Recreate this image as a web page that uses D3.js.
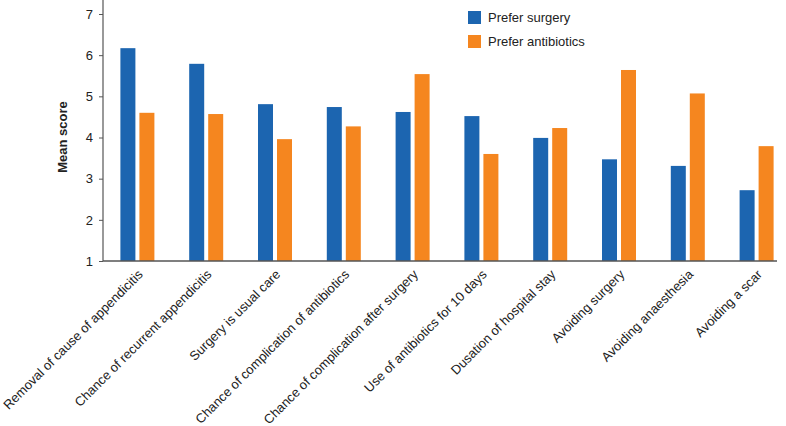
<!DOCTYPE html>
<html><head><meta charset="utf-8">
<script src="https://cdn.jsdelivr.net/npm/d3@7"></script>
<style>body{margin:0;background:#fff}svg{display:block}text{font-family:"Liberation Sans",Arial,sans-serif}</style>
</head><body>
<svg id="c" width="786" height="426"></svg>
<script>
const categories = ["Removal of cause of appendicitis","Chance of recurrent appendicitis","Surgery is usual care","Chance of complication of antibiotics","Chance of complication after surgery","Use of antibiotics for 10 days","Dusation of hospital stay","Avoiding surgery","Avoiding anaesthesia","Avoiding a scar"];
const preferSurgery = [6.17,5.79,4.81,4.74,4.62,4.52,3.99,3.47,3.31,2.72];
const preferAntibiotics = [4.60,4.57,3.96,4.27,5.54,3.60,4.23,5.64,5.07,3.79];
const seriesNames = ["Prefer surgery","Prefer antibiotics"];
const yTicks = [1,2,3,4,5,6,7];
const colors = ["#1c65b0","#f5861f"];

const svg = d3.select("#c");
const x0 = 103, axisEnd = 777, yTop = 14, yBot = 261;
const x = d3.scaleBand().domain(categories).range([x0, x0 + 68.8*categories.length]);
const y = d3.scaleLinear().domain([1,7]).range([yBot, yTop]);
const bw = 15, gap = 4;

const series = [preferSurgery, preferAntibiotics];
series.forEach((vals, si) => {
  svg.append("g").selectAll("rect").data(vals).join("rect")
    .attr("x", (d,i) => x(categories[i]) + x.bandwidth()/2 + (si===0 ? -(bw+gap/2) : gap/2))
    .attr("y", d => y(d))
    .attr("width", bw)
    .attr("height", d => yBot - y(d))
    .attr("fill", colors[si]);
});

// y axis
const ya = svg.append("g").attr("transform", `translate(${x0},0)`)
  .call(d3.axisLeft(y).tickValues(yTicks).tickSize(4).tickPadding(6).tickFormat(d3.format("d")));
ya.select(".domain").attr("stroke","#555").attr("stroke-width",1.2).attr("d", `M0,0V${yBot}`);
ya.selectAll(".tick line").attr("stroke","#555");
ya.selectAll(".tick text").attr("font-size",13).attr("fill","#222").attr("font-family","Liberation Sans, Arial, sans-serif");

// x axis line
svg.append("line").attr("x1", x0).attr("x2", axisEnd).attr("y1", yBot).attr("y2", yBot)
  .attr("stroke","#555").attr("stroke-width",1.5);

// x labels
svg.append("g").selectAll("text").data(categories).join("text")
  .attr("transform", d => `translate(${x(d)+x.bandwidth()/2+3},${yBot+11}) rotate(-45)`)
  .attr("text-anchor","end").attr("font-size",13).attr("fill","#222")
  .attr("dy","0.35em")
  .text(d => d);

// y title
svg.append("text").attr("transform", `translate(67,137) rotate(-90)`)
  .attr("text-anchor","middle").attr("font-size",13).attr("font-weight","bold").attr("fill","#222")
  .text("Mean score");

// legend
const lg = svg.append("g");
seriesNames.forEach((n, i) => {
  lg.append("rect").attr("x",468).attr("y",11 + i*24).attr("width",13).attr("height",13).attr("fill",colors[i]);
  lg.append("text").attr("x",488).attr("y",22 + i*24).attr("font-size",13).attr("fill","#222").text(n);
});
</script>
</body></html>
